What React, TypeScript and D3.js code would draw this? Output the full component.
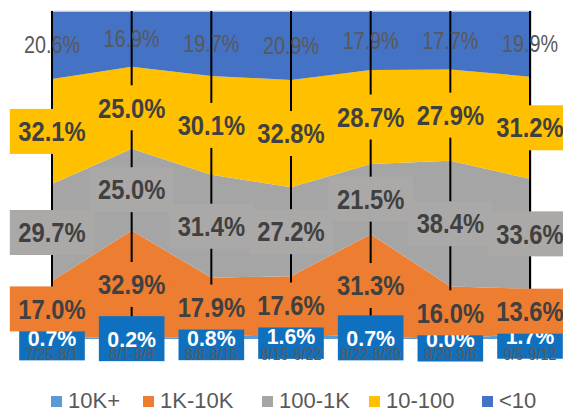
import { useRef, useEffect } from "react";
import * as d3 from "d3";

// weekly share of addresses by holding size (%)
const categories = ["7/25-8/1", "8/1-8/8", "8/8-8/15", "8/15-8/22", "8/22-8/29", "8/29-9/5", "9/5-9/12"];
const seriesNames = ["10K+", "1K-10K", "100-1K", "10-100", "<10"];
const tenKPlus = [0.7, 0.2, 0.8, 1.6, 0.7, 0.0, 1.7];
const oneKTo10K = [17.0, 32.9, 17.9, 17.6, 31.3, 16.0, 13.6];
const hundredTo1K = [29.7, 25.0, 31.4, 27.2, 21.5, 38.4, 33.6];
const tenTo100 = [32.1, 25.0, 30.1, 32.8, 28.7, 27.9, 31.2];
const under10 = [20.6, 16.9, 19.7, 20.9, 17.9, 17.7, 19.9];

const seriesValues = [tenKPlus, oneKTo10K, hundredTo1K, tenTo100, under10];
const areaColors = ["#5B9BD5", "#ED7D31", "#A5A5A5", "#FFC000", "#4472C4"];
const boxColors = ["#0F70C0", "#ED7D31", "#ABA8A8", "#FFC000", null];

export default function App() {
  const chartRef = useRef<HTMLDivElement>(null);

  useEffect(() => {
    if (!chartRef.current) return;
    d3.select(chartRef.current).selectAll("*").remove();

    const width = 563;
    const height = 410;
    const plot = { left: 52, right: 530, top: 11.5, bottom: 339 };

    const svg = d3
      .select(chartRef.current)
      .append("svg")
      .attr("width", width)
      .attr("height", height)
      .style("font-family", "'Liberation Sans', Arial, sans-serif");

    const rows = categories.map((c, i) => {
      const row: Record<string, any> = { cat: c };
      seriesNames.forEach((s, k) => (row[s] = seriesValues[k][i]));
      return row;
    });

    const stacked = d3.stack<any>().keys(seriesNames).offset(d3.stackOffsetExpand)(rows);

    const x = d3.scalePoint<string>().domain(categories).range([plot.left, plot.right]);
    const y = d3.scaleLinear().domain([0, 1]).range([plot.bottom, plot.top]);

    const area = d3
      .area<any>()
      .x((d) => x(d.data.cat)!)
      .y0((d) => y(d[0]))
      .y1((d) => y(d[1]));

    svg
      .selectAll("path.area")
      .data(stacked)
      .enter()
      .append("path")
      .attr("class", "area")
      .attr("d", area)
      .attr("fill", (_, i) => areaColors[i]);

    // plot border (top / right)
    svg.append("line").attr("x1", plot.left).attr("x2", plot.right + 2)
      .attr("y1", plot.top - 0.5).attr("y2", plot.top - 0.5).attr("stroke", "#D9D9D9");
    svg.append("line").attr("x1", plot.right + 1.5).attr("x2", plot.right + 1.5)
      .attr("y1", plot.top - 0.5).attr("y2", plot.bottom).attr("stroke", "#D9D9D9");

    // vertical drop lines at each week
    svg
      .selectAll("line.drop")
      .data(categories)
      .enter()
      .append("line")
      .attr("class", "drop")
      .attr("x1", (d) => x(d)!)
      .attr("x2", (d) => x(d)!)
      .attr("y1", plot.top - 0.5)
      .attr("y2", plot.bottom)
      .attr("stroke", "#000")
      .attr("stroke-width", 2);

    // data labels, bottom series first so upper boxes sit on top
    stacked.forEach((layer, k) => {
      const g = svg.append("g");
      layer.forEach((d, i) => {
        const cx = x(categories[i])!;
        const cy = (y(d[0]) + y(d[1])) / 2;
        const val = seriesValues[k][i].toFixed(1) + "%";
        const isTop = k === 4;
        const isBlue = k === 0;
        const fs = isTop ? 23 : isBlue ? 22 : 27;
        const sx = isTop ? 0.86 : isBlue ? 0.97 : 0.88;
        const lg = g.append("g");
        const rect = lg.append("rect");
        const t = lg
          .append("text")
          .attr("transform", `translate(${cx},${cy}) scale(${sx},1)`)
          .attr("text-anchor", "middle")
          .attr("dy", "0.36em")
          .attr("font-size", fs)
          .attr("font-weight", isTop ? "normal" : "bold")
          .attr("fill", isTop ? "#595959" : isBlue ? "#fff" : "#404040")
          .text(val);
        const box = boxColors[k];
        if (box) {
          const w = (t.node() as SVGTextElement).getComputedTextLength() * sx + 17;
          rect
            .attr("x", cx - w / 2)
            .attr("y", cy - 22.5)
            .attr("width", w)
            .attr("height", 45)
            .attr("fill", box);
        } else {
          rect.remove();
        }
      });
    });

    // category labels
    svg
      .selectAll("text.cat")
      .data(categories)
      .enter()
      .append("text")
      .attr("class", "cat")
      .attr("transform", (d) => `translate(${x(d)},360) scale(0.9,1)`)
      .attr("text-anchor", "middle")
      .attr("font-size", 16)
      .attr("fill", "#595959")
      .text((d) => d);

    // legend
    const legendX = [51, 143, 262, 369, 482];
    const legend = svg.append("g");
    seriesNames.forEach((s, k) => {
      legend
        .append("rect")
        .attr("x", legendX[k])
        .attr("y", 396)
        .attr("width", 11)
        .attr("height", 11)
        .attr("fill", areaColors[k]);
      legend
        .append("text")
        .attr("x", legendX[k] + 17)
        .attr("y", 408)
        .attr("font-size", 22)
        .attr("fill", "#595959")
        .text(s);
    });
  }, []);

  return (
    <div style={{ position: "absolute", left: 0, top: 0 }}>
      <div ref={chartRef}></div>
    </div>
  );
}
